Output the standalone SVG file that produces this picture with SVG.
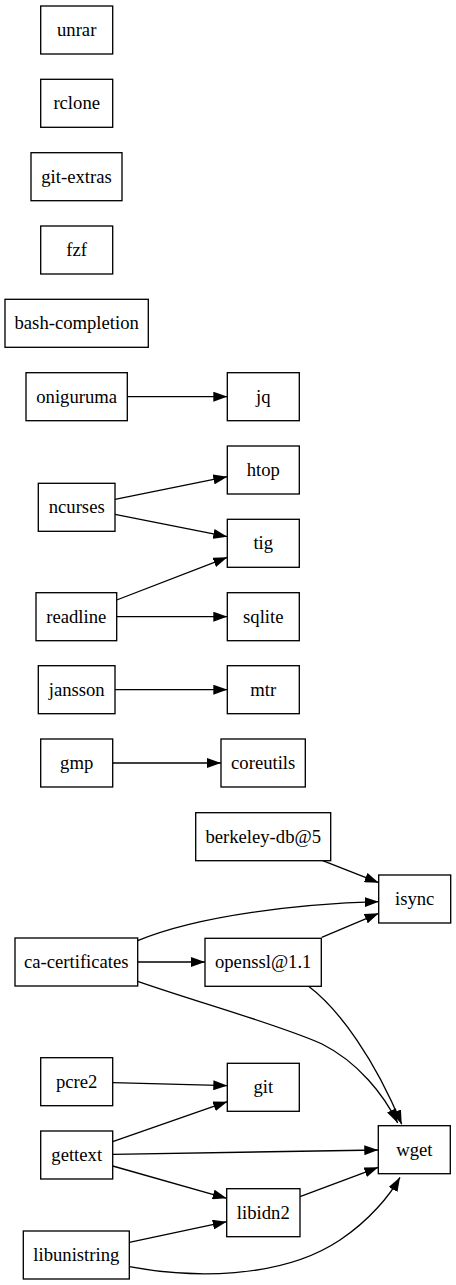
<svg xmlns="http://www.w3.org/2000/svg" width="456" height="1285" viewBox="0 0 456 1285">
<style>
.n rect{fill:#fff;stroke:#000;stroke-width:1.33}
.n text{font-family:Times,"Times New Roman","Liberation Serif","DejaVu Serif","Noto Serif",serif;font-size:18.67px;text-anchor:middle;fill:#000}
.e path{fill:none;stroke:#000;stroke-width:1.33}
</style>
<defs>
<marker id="a" markerUnits="userSpaceOnUse" markerWidth="14" markerHeight="10" viewBox="0 0 14 10" refX="14" refY="5" orient="auto">
<path d="M0,0 L14,5 L0,10 z" fill="#000"/>
</marker>
</defs>
<rect width="456" height="1285" fill="#fff"/>
<g class="e">
<path d="M127.3,396.7 L227.3,396.7" marker-end="url(#a)"/>
<path d="M115,499.3 L227.3,476.7" marker-end="url(#a)"/>
<path d="M115,514.3 L227.3,536.7" marker-end="url(#a)"/>
<path d="M116.7,600 L227.3,557.3" marker-end="url(#a)"/>
<path d="M116.7,616.7 L227.3,616.7" marker-end="url(#a)"/>
<path d="M115,689.7 L227.3,689.7" marker-end="url(#a)"/>
<path d="M112.7,763 L221,763" marker-end="url(#a)"/>
<path d="M322.7,860.7 L378.7,882.7" marker-end="url(#a)"/>
<path d="M137.7,940.7 C200,915 300,904 378.7,901.7" marker-end="url(#a)"/>
<path d="M321.7,937.3 L378.7,913.3" marker-end="url(#a)"/>
<path d="M137.7,962 L205,962" marker-end="url(#a)"/>
<path d="M137.7,981.3 C200,1003 280,1025 322,1044 C358,1062 384,1095 397.7,1123" marker-end="url(#a)"/>
<path d="M308.3,986 C340,1010 375,1060 401.7,1124.3" marker-end="url(#a)"/>
<path d="M112.7,1082.7 L227.3,1085.7" marker-end="url(#a)"/>
<path d="M112.7,1141.7 L227.3,1101.7" marker-end="url(#a)"/>
<path d="M112.7,1154.3 L378.3,1150" marker-end="url(#a)"/>
<path d="M112.7,1166 L226.7,1198.3" marker-end="url(#a)"/>
<path d="M300,1196.7 L378.3,1167.3" marker-end="url(#a)"/>
<path d="M129.3,1242.3 L226.7,1221.7" marker-end="url(#a)"/>
<path d="M129.3,1266.7 C190,1278 280,1280 340,1240 C370,1220 390,1195 400,1177.3" marker-end="url(#a)"/>
</g>
<g id="unrar" class="n"><rect x="40.7" y="6" width="72" height="48"/><text x="76.7" y="36">unrar</text></g>
<g id="rclone" class="n"><rect x="40.7" y="79.3" width="72" height="48"/><text x="76.7" y="109.3">rclone</text></g>
<g id="git-extras" class="n"><rect x="31" y="152.7" width="91" height="48"/><text x="76.5" y="182.7">git-extras</text></g>
<g id="fzf" class="n"><rect x="40.7" y="226" width="72" height="48"/><text x="76.7" y="256">fzf</text></g>
<g id="bash-completion" class="n"><rect x="5" y="299.3" width="143.3" height="48"/><text x="76.7" y="329.3">bash-completion</text></g>
<g id="oniguruma" class="n"><rect x="26" y="372.7" width="101.3" height="48"/><text x="76.7" y="402.7">oniguruma</text></g>
<g id="jq" class="n"><rect x="227.3" y="372.7" width="72" height="48"/><text x="263.3" y="402.7">jq</text></g>
<g id="htop" class="n"><rect x="227.3" y="446" width="72" height="48"/><text x="263.3" y="476">htop</text></g>
<g id="ncurses" class="n"><rect x="38.3" y="483.3" width="76.7" height="48"/><text x="76.7" y="513.3">ncurses</text></g>
<g id="tig" class="n"><rect x="227.3" y="519.3" width="72" height="48"/><text x="263.3" y="549.3">tig</text></g>
<g id="readline" class="n"><rect x="36" y="592.7" width="80.7" height="48"/><text x="76.3" y="622.7">readline</text></g>
<g id="sqlite" class="n"><rect x="227.3" y="592.7" width="72" height="48"/><text x="263.3" y="622.7">sqlite</text></g>
<g id="jansson" class="n"><rect x="38.3" y="665.7" width="76.7" height="48"/><text x="76.7" y="695.7">jansson</text></g>
<g id="mtr" class="n"><rect x="227.3" y="665.7" width="72" height="48"/><text x="263.3" y="695.7">mtr</text></g>
<g id="gmp" class="n"><rect x="40.7" y="739" width="72" height="48"/><text x="76.7" y="769">gmp</text></g>
<g id="coreutils" class="n"><rect x="221" y="739" width="84.3" height="48"/><text x="263.2" y="769">coreutils</text></g>
<g id="berkeley-db5" class="n"><rect x="195.7" y="812.7" width="135" height="48"/><text x="263.2" y="842.7">berkeley-db@5</text></g>
<g id="isync" class="n"><rect x="378.7" y="875" width="72" height="48"/><text x="414.7" y="905">isync</text></g>
<g id="ca-certificates" class="n"><rect x="15" y="938" width="122.7" height="48"/><text x="76.3" y="968">ca-certificates</text></g>
<g id="openssl11" class="n"><rect x="205" y="938.3" width="116.3" height="48"/><text x="263.2" y="968.3">openssl@1.1</text></g>
<g id="pcre2" class="n"><rect x="40.7" y="1057.7" width="72" height="48"/><text x="76.7" y="1087.7">pcre2</text></g>
<g id="git" class="n"><rect x="227.3" y="1063.3" width="72" height="48"/><text x="263.3" y="1093.3">git</text></g>
<g id="gettext" class="n"><rect x="40.7" y="1131" width="72" height="48"/><text x="76.7" y="1161">gettext</text></g>
<g id="wget" class="n"><rect x="378.3" y="1125.7" width="72" height="48"/><text x="414.3" y="1155.7">wget</text></g>
<g id="libidn2" class="n"><rect x="226.7" y="1188.7" width="73.3" height="48"/><text x="263.3" y="1218.7">libidn2</text></g>
<g id="libunistring" class="n"><rect x="23.3" y="1231" width="106" height="48"/><text x="76.3" y="1261">libunistring</text></g>
</svg>
